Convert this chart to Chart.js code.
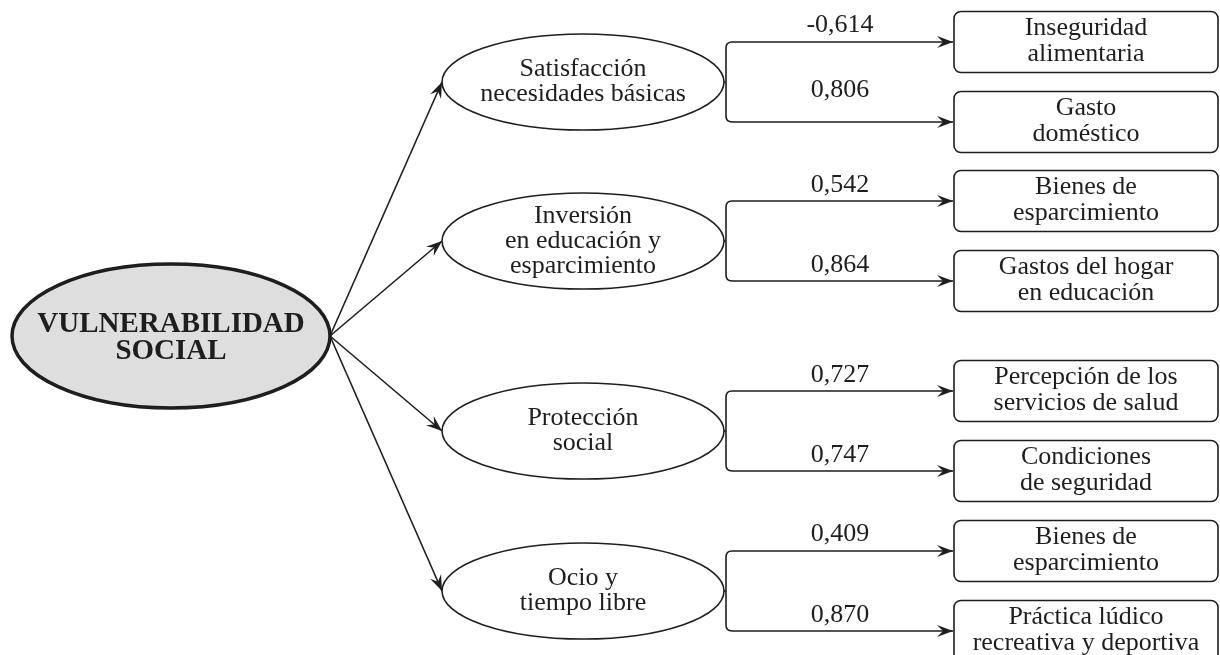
<!DOCTYPE html>
<html>
<head>
<meta charset="utf-8">
<script src="https://cdn.jsdelivr.net/npm/chart.js@4/dist/chart.umd.min.js"></script>
<style>
html,body{margin:0;padding:0;background:#fff;}
#wrap{width:1220px;height:655px;}
</style>
</head>
<body>
<div id="wrap"><canvas id="c" width="1220" height="655"></canvas></div>
<script>
// ---- data ----
const rootLabel = ["VULNERABILIDAD", "SOCIAL"];
const factors = [
  ["Satisfacción", "necesidades básicas"],
  ["Inversión", "en educación y", "esparcimiento"],
  ["Protección", "social"],
  ["Ocio y", "tiempo libre"]
];
const indicators = [
  [["Inseguridad", "alimentaria"], ["Gasto", "doméstico"]],
  [["Bienes de", "esparcimiento"], ["Gastos del hogar", "en educación"]],
  [["Percepción de los", "servicios de salud"], ["Condiciones", "de seguridad"]],
  [["Bienes de", "esparcimiento"], ["Práctica lúdico", "recreativa y deportiva"]]
];
const loadings = [
  [-0.614, 0.806],
  [0.542, 0.864],
  [0.727, 0.747],
  [0.409, 0.870]
];

// ---- layout (diagram coordinates in the 0..1220 x 0..655 axis space) ----
const L = {
  root: {x: 171, y: 336, rx: 159, ry: 72},
  factorX: 583, factorRx: 141, factorRy: 48,
  factorY: [82, 241, 431, 591],
  branchDy: 40,
  bracketX: 726,
  boxX0: 954, boxX1: 1218, boxH: 61,
  labelX: 840,
  labelLift: [[10, 25], [9, 9], [9, 9], [10, 9]]
};

const INK = '#1e1e1e';
const fmt = v => v.toFixed(3).replace('.', ',');

function arrowHead(ctx, x0, y0, x1, y1) {
  const a = Math.atan2(y1 - y0, x1 - x0);
  const len = 16, w = 6, notch = 10;
  ctx.save();
  ctx.translate(x1, y1);
  ctx.rotate(a);
  ctx.beginPath();
  ctx.moveTo(0, 0);
  ctx.lineTo(-len, -w);
  ctx.lineTo(-len + (len - notch), 0);
  ctx.lineTo(-len, w);
  ctx.closePath();
  ctx.fillStyle = INK;
  ctx.fill();
  ctx.restore();
}

function line(ctx, pts) {
  ctx.beginPath();
  ctx.moveTo(pts[0][0], pts[0][1]);
  for (let i = 1; i < pts.length; i++) ctx.lineTo(pts[i][0], pts[i][1]);
  ctx.stroke();
}

function multiText(ctx, lines, cx, cy, lh) {
  const n = lines.length;
  lines.forEach((t, i) => {
    ctx.fillText(t, cx, cy + (i - (n - 1) / 2) * lh);
  });
}

const diagramPlugin = {
  id: 'sem',
  afterDatasetsDraw(chart) {
    const ctx = chart.ctx;
    const xs = chart.scales.x, ys = chart.scales.y;
    const X = v => xs.getPixelForValue(v);
    const Y = v => ys.getPixelForValue(v);
    const sx = X(1) - X(0), sy = Math.abs(Y(1) - Y(0));
    ctx.save();
    ctx.strokeStyle = INK;
    ctx.lineJoin = 'round';

    // root ellipse
    const r = L.root;
    ctx.beginPath();
    ctx.ellipse(X(r.x), Y(r.y), r.rx * sx, r.ry * sy, 0, 0, Math.PI * 2);
    ctx.fillStyle = '#dedede';
    ctx.fill();
    ctx.lineWidth = 3.5;
    ctx.stroke();
    ctx.fillStyle = INK;
    ctx.font = 'bold 29px "Liberation Serif", "DejaVu Serif", serif';
    ctx.textAlign = 'center';
    ctx.textBaseline = 'middle';
    multiText(ctx, rootLabel, X(r.x), Y(r.y + 2), 27 * sy);

    const ox = r.x + r.rx, oy = r.y;

    factors.forEach((f, i) => {
      const cy = L.factorY[i];
      const lx = L.factorX - L.factorRx;
      // path from root to factor
      ctx.lineWidth = 1.6;
      line(ctx, [[X(ox), Y(oy)], [X(lx), Y(cy)]]);
      arrowHead(ctx, X(ox), Y(oy), X(lx), Y(cy));
      // factor ellipse
      ctx.beginPath();
      ctx.ellipse(X(L.factorX), Y(cy), L.factorRx * sx, L.factorRy * sy, 0, 0, Math.PI * 2);
      ctx.fillStyle = '#fff';
      ctx.fill();
      ctx.lineWidth = 1.6;
      ctx.stroke();
      ctx.fillStyle = INK;
      ctx.font = '26px "Liberation Serif", "DejaVu Serif", serif';
      ctx.textAlign = 'center';
      ctx.textBaseline = 'middle';
      multiText(ctx, f, X(L.factorX), Y(cy), 25 * sy);

      // bracket
      const yTop = cy - L.branchDy, yBot = cy + L.branchDy;
      const rxEdge = L.factorX + L.factorRx;
      const rad = 6;
      ctx.lineWidth = 1.6;
      ctx.beginPath();
      ctx.moveTo(X(rxEdge), Y(cy));
      ctx.lineTo(X(L.bracketX), Y(cy));
      ctx.stroke();
      [yTop, yBot].forEach((yy, k) => {
        const dir = yy < cy ? -1 : 1;
        ctx.beginPath();
        ctx.moveTo(X(L.bracketX), Y(cy));
        ctx.lineTo(X(L.bracketX), Y(yy - dir * rad));
        ctx.quadraticCurveTo(X(L.bracketX), Y(yy), X(L.bracketX + rad), Y(yy));
        ctx.lineTo(X(L.boxX0 - 1), Y(yy));
        ctx.stroke();
        arrowHead(ctx, X(L.bracketX), Y(yy), X(L.boxX0 - 1), Y(yy));

        // loading label
        ctx.fillStyle = INK;
        ctx.font = '26px "Liberation Serif", "DejaVu Serif", serif';
        ctx.textAlign = 'center';
        ctx.textBaseline = 'alphabetic';
        ctx.fillText(fmt(loadings[i][k]), X(L.labelX), Y(yy - L.labelLift[i][k]));

        // indicator box
        const bx0 = X(L.boxX0), bx1 = X(L.boxX1);
        const by0 = Y(yy - L.boxH / 2), by1 = Y(yy + L.boxH / 2);
        ctx.beginPath();
        ctx.roundRect(bx0, by0, bx1 - bx0, by1 - by0, 7);
        ctx.fillStyle = '#fff';
        ctx.fill();
        ctx.lineWidth = 1.6;
        ctx.stroke();
        ctx.fillStyle = INK;
        ctx.textBaseline = 'middle';
        multiText(ctx, indicators[i][k], (bx0 + bx1) / 2, Y(yy - 1), 26 * sy);
      });
    });
    ctx.restore();
  }
};

// anchor points for each node, passed through the chart's scales
const nodePoints = [{x: L.root.x, y: L.root.y}].concat(
  L.factorY.map(y => ({x: L.factorX, y}))
);

new Chart(document.getElementById('c'), {
  type: 'scatter',
  data: {
    datasets: [{
      data: nodePoints,
      pointRadius: 0,
      pointHoverRadius: 0,
      showLine: false
    }]
  },
  options: {
    responsive: false,
    animation: false,
    devicePixelRatio: 1,
    layout: {padding: 0},
    plugins: {legend: {display: false}, tooltip: {enabled: false}},
    events: [],
    scales: {
      x: {type: 'linear', min: 0, max: 1220, display: false},
      y: {type: 'linear', min: 0, max: 655, reverse: true, display: false}
    }
  },
  plugins: [diagramPlugin]
});
</script>
</body>
</html>
